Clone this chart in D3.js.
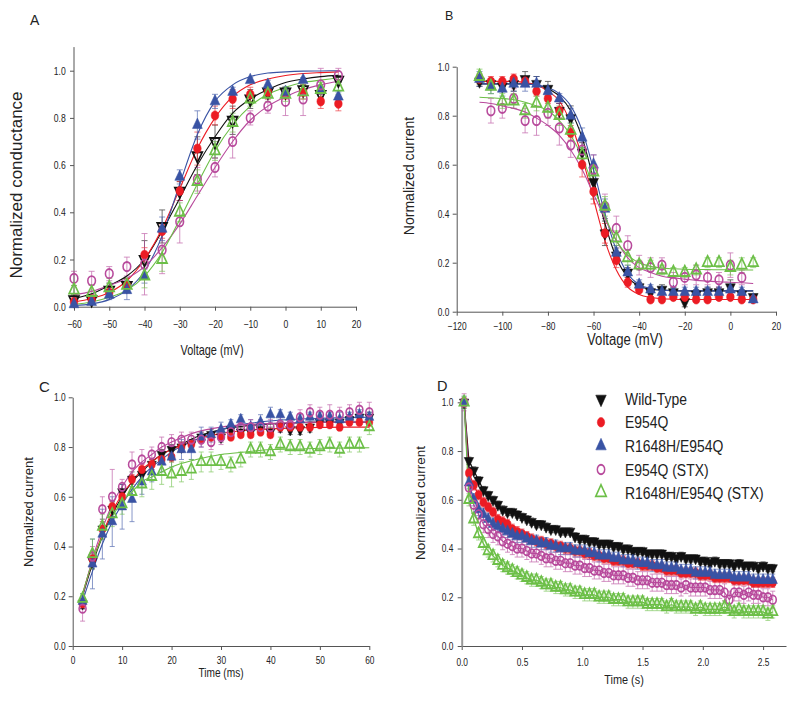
<!DOCTYPE html>
<html><head><meta charset="utf-8">
<script src="https://cdn.jsdelivr.net/npm/d3@7"></script>
<style>body{margin:0;background:#fff}text{font-family:"Liberation Sans",Arial,sans-serif;fill:#222}</style>
</head><body><svg id="c" width="800" height="701"></svg>
<script>
// ---------- series ----------
const seriesNames = ["Wild-Type","E954Q","R1648H/E954Q","E954Q (STX)","R1648H/E954Q (STX)"];
const seriesColors = ["#111111","#ec1c24","#3953a4","#b84a9c","#6cbf47"];
const seriesShapes = ["down","circle","up","circle","up"];
const seriesFilled = [true,true,true,false,false];

// ---------- Panel A: conductance ----------
const aVoltage = [-60,-55,-50,-45,-40,-35,-30,-25,-20,-15,-10,-5,0,5,10,15];
const aWT     = [0.03,0.03,0.07,0.09,0.20,0.34,0.49,0.64,0.70,0.79,0.88,0.91,0.91,0.92,0.90,0.96];
const aE954Q  = [0.02,0.03,0.06,0.09,0.22,0.32,0.49,0.67,0.81,0.88,0.90,0.91,0.90,0.91,0.87,0.86];
const aRH     = [0.01,0.02,0.05,0.07,0.13,0.33,0.55,0.77,0.87,0.91,0.96,0.94,0.91,0.96,0.92,0.89];
const aE954QS = [0.12,0.11,0.14,0.17,0.18,0.24,0.36,0.54,0.59,0.70,0.80,0.85,0.87,0.88,0.94,0.98];
const aRHS    = [0.07,0.06,0.08,0.09,0.13,0.20,0.40,0.53,0.66,0.78,0.88,0.90,0.90,0.91,0.92,0.93];
const aErrWT     = [0.02,0.02,0.03,0.03,0.08,0.07,0.04,0.08,0.07,0.06,0.04,0.02,0.02,0.02,0.03,0.02];
const aErrE954Q  = [0.02,0.02,0.02,0.03,0.03,0.03,0.04,0.07,0.04,0.04,0.03,0.03,0.02,0.03,0.03,0.03];
const aErrRH     = [0.01,0.01,0.02,0.04,0.03,0.05,0.03,0.06,0.03,0.02,0.01,0.02,0.02,0.01,0.02,0.02];
const aErrE954QS = [0.03,0.04,0.03,0.04,0.13,0.10,0.09,0.05,0.04,0.07,0.03,0.03,0.06,0.07,0.07,0.03];
const aErrRHS    = [0.02,0.03,0.04,0.03,0.05,0.05,0.04,0.05,0.04,0.04,0.03,0.03,0.03,0.03,0.03,0.03];
const aFitWT     = [0.035,0.055,0.09,0.13,0.20,0.32,0.46,0.60,0.72,0.82,0.88,0.92,0.95,0.965,0.975,0.98];
const aFitE954Q  = [0.02,0.035,0.06,0.11,0.20,0.33,0.50,0.67,0.80,0.89,0.94,0.965,0.98,0.988,0.992,0.995];
const aFitRH     = [0.005,0.012,0.03,0.07,0.15,0.30,0.52,0.73,0.87,0.94,0.975,0.99,0.995,0.998,0.999,1.0];
const aFitE954QS = [0.05,0.065,0.09,0.12,0.17,0.25,0.35,0.47,0.59,0.70,0.79,0.85,0.89,0.92,0.94,0.955];
const aFitRHS    = [0.01,0.02,0.04,0.07,0.13,0.23,0.37,0.52,0.66,0.77,0.85,0.90,0.93,0.95,0.96,0.97];
const aXTicks = [-60,-50,-40,-30,-20,-10,0,10,20];
const aYTicks = [0,0.2,0.4,0.6,0.8,1.0];

// ---------- Panel B: inactivation ----------
const bVoltage = [-110,-105,-100,-95,-90,-85,-80,-75,-70,-65,-60,-55,-50,-45,-40,-35,-30,-25,-20,-15,-10,-5,0,5,10];
const bWT     = [0.94,0.93,0.92,0.93,0.95,0.93,0.91,0.82,0.79,0.65,0.53,0.32,0.23,0.16,0.10,0.08,0.09,0.08,0.04,0.07,0.08,0.08,0.10,0.07,0.06];
const bE954Q  = [0.95,0.94,0.94,0.95,0.94,0.90,0.87,0.82,0.73,0.60,0.49,0.32,0.21,0.12,0.09,0.05,0.05,0.06,0.06,0.05,0.05,0.06,0.06,0.05,0.05];
const bRH     = [0.95,0.92,0.91,0.93,0.93,0.93,0.90,0.87,0.80,0.71,0.60,0.42,0.24,0.16,0.11,0.09,0.08,0.08,0.08,0.08,0.08,0.08,0.09,0.08,0.05];
const bE954QS = [null,0.82,0.83,0.87,0.78,0.78,0.81,0.75,0.68,0.66,0.58,0.43,0.34,0.27,0.19,0.18,0.19,0.12,0.14,0.15,0.14,0.13,0.19,0.14,null];
const bRHS    = [0.96,0.92,0.86,0.86,0.82,0.85,0.83,0.80,0.74,0.64,0.57,0.43,0.30,0.22,0.19,0.19,0.17,0.16,0.16,0.17,0.20,0.20,0.18,0.19,0.20];
const bErrWT     = [0.02,0.02,0.02,0.03,0.03,0.03,0.03,0.03,0.05,0.04,0.07,0.05,0.03,0.02,0.02,0.02,0.02,0.02,0.02,0.02,0.02,0.02,0.03,0.02,0.01];
const bErrE954Q  = [0.02,0.02,0.02,0.02,0.02,0.02,0.02,0.03,0.03,0.05,0.05,0.04,0.03,0.02,0.01,0.01,0.01,0.01,0.01,0.01,0.01,0.01,0.01,0.01,0.01];
const bErrRH     = [0.03,0.03,0.03,0.03,0.03,0.03,0.02,0.02,0.03,0.04,0.04,0.04,0.03,0.03,0.02,0.02,0.02,0.02,0.02,0.02,0.02,0.02,0.02,0.02,0.01];
const bErrE954QS = [0,0.05,0.04,0.04,0.05,0.06,0.05,0.07,0.05,0.04,0.06,0.05,0.05,0.04,0.04,0.04,0.03,0.04,0.03,0.04,0.03,0.03,0.05,0.03,0];
const bErrRHS    = [0.03,0.03,0.03,0.03,0.03,0.03,0.04,0.04,0.03,0.03,0.03,0.04,0.03,0.03,0.02,0.02,0.02,0.02,0.02,0.02,0.02,0.02,0.03,0.03,0.02];
const bFitWT     = [0.93,0.93,0.93,0.93,0.93,0.925,0.91,0.88,0.82,0.71,0.54,0.36,0.22,0.14,0.105,0.092,0.088,0.086,0.085,0.085,0.085,0.085,0.085,0.085,0.085];
const bFitE954Q  = [0.94,0.94,0.94,0.94,0.935,0.925,0.90,0.86,0.77,0.63,0.46,0.29,0.17,0.10,0.07,0.058,0.053,0.051,0.05,0.05,0.05,0.05,0.05,0.05,0.05];
const bFitRH     = [0.93,0.93,0.93,0.93,0.93,0.925,0.915,0.89,0.84,0.74,0.58,0.40,0.25,0.155,0.11,0.095,0.088,0.086,0.085,0.085,0.085,0.085,0.085,0.085,0.085];
const bFitE954QS = [0.855,0.85,0.84,0.83,0.815,0.79,0.76,0.72,0.66,0.58,0.48,0.38,0.29,0.22,0.18,0.16,0.145,0.138,0.133,0.128,0.125,0.122,0.12,0.118,0.115];
const bFitRHS    = [0.875,0.873,0.87,0.865,0.855,0.84,0.82,0.78,0.72,0.63,0.51,0.39,0.29,0.23,0.2,0.185,0.178,0.175,0.173,0.172,0.172,0.171,0.171,0.17,0.17];
const bXTicks = [-120,-100,-80,-60,-40,-20,0,20];
const bYTicks = [0,0.2,0.4,0.6,0.8,1.0];

// ---------- Panel C: recovery ----------
const cTime = [2,4,6,8,10,12,14,16,18,20,22,24,26,28,30,32,34,36,38,40,42,44,46,48,50,52,54,56,58,60];
const cWT     = [0.17,0.34,0.47,0.55,0.62,0.67,0.69,0.73,0.77,0.79,0.80,0.81,0.84,0.85,0.84,0.87,0.86,0.86,0.87,0.86,0.88,0.87,0.87,0.88,0.90,0.90,0.90,0.91,0.92,0.92];
const cE954Q  = [0.17,0.35,0.47,0.56,0.60,0.67,0.71,0.73,0.75,0.76,0.80,0.81,0.83,0.84,0.84,0.84,0.85,0.85,0.86,0.85,0.88,0.88,0.88,0.88,0.89,0.89,0.88,0.90,0.90,0.90];
const cRH     = [0.18,0.33,0.45,0.50,0.56,0.59,0.66,0.70,0.74,0.76,0.79,0.79,0.84,0.85,0.87,0.89,0.91,0.88,0.90,0.93,0.93,0.92,0.91,0.92,0.92,0.92,0.91,0.92,0.93,0.92];
const cE954QS = [0.15,0.36,0.55,0.60,0.64,0.73,0.75,0.77,0.80,0.82,0.83,0.83,0.83,0.82,0.84,0.86,0.88,0.88,0.88,0.88,0.89,0.89,0.92,0.94,0.93,0.93,0.93,0.94,0.95,0.94];
const cRHS    = [0.19,0.37,0.48,0.53,0.57,0.62,0.65,0.68,0.70,0.69,0.70,0.71,0.74,0.74,0.74,0.73,0.75,0.79,0.79,0.78,0.81,0.80,0.80,0.79,0.80,0.81,0.79,0.81,0.81,0.88];
const cErrWT     = [0.02,0.03,0.04,0.03,0.03,0.03,0.03,0.02,0.02,0.02,0.02,0.02,0.02,0.02,0.02,0.02,0.02,0.02,0.02,0.02,0.02,0.02,0.02,0.02,0.02,0.02,0.02,0.02,0.02,0.02];
const cErrE954Q  = [0.02,0.03,0.03,0.02,0.02,0.02,0.02,0.02,0.02,0.02,0.02,0.02,0.01,0.01,0.01,0.01,0.01,0.01,0.01,0.01,0.01,0.01,0.01,0.01,0.01,0.01,0.01,0.01,0.01,0.01];
const cErrRH     = [0.03,0.10,0.10,0.10,0.09,0.09,0.05,0.04,0.04,0.04,0.04,0.04,0.04,0.03,0.03,0.02,0.02,0.03,0.03,0.03,0.02,0.02,0.02,0.02,0.02,0.02,0.03,0.02,0.02,0.02];
const cErrE954QS = [0.05,0.04,0.05,0.11,0.03,0.05,0.04,0.03,0.04,0.03,0.03,0.03,0.03,0.03,0.03,0.03,0.03,0.03,0.03,0.03,0.03,0.03,0.03,0.03,0.03,0.04,0.03,0.03,0.03,0.04];
const cErrRHS    = [0.02,0.06,0.05,0.05,0.04,0.04,0.05,0.05,0.05,0.05,0.04,0.04,0.04,0.04,0.03,0.03,0.03,0.03,0.03,0.03,0.03,0.03,0.03,0.03,0.03,0.03,0.03,0.03,0.03,0.03];
const cFitTime   = [2,4,6,8,10,12,14,16,18,20,25,30,35,40,45,50,55,60];
const cFitWT     = [0.20,0.33,0.44,0.53,0.60,0.66,0.70,0.74,0.77,0.79,0.84,0.87,0.885,0.893,0.897,0.90,0.90,0.90];
const cFitE954Q  = [0.21,0.34,0.45,0.54,0.61,0.66,0.71,0.74,0.77,0.79,0.83,0.855,0.867,0.873,0.877,0.879,0.88,0.88];
const cFitRH     = [0.18,0.30,0.41,0.50,0.57,0.63,0.68,0.72,0.75,0.78,0.83,0.87,0.893,0.905,0.912,0.916,0.918,0.92];
const cFitE954QS = [0.20,0.35,0.47,0.57,0.64,0.70,0.74,0.77,0.80,0.82,0.86,0.88,0.89,0.895,0.898,0.90,0.90,0.90];
const cFitRHS    = [0.21,0.34,0.44,0.52,0.58,0.62,0.66,0.68,0.70,0.72,0.75,0.77,0.78,0.79,0.792,0.795,0.796,0.797];
const cXTicks = [0,10,20,30,40,50,60];
const cYTicks = [0,0.2,0.4,0.6,0.8,1.0];

// ---------- Panel D: use-dependent decay ----------
const dTime = [0.02,0.06,0.10,0.14,0.18,0.22,0.26,0.30,0.34,0.38,0.42,0.46,0.50,0.54,0.58,0.62,0.66,0.70,0.74,0.78,0.82,0.86,0.90,0.94,0.98,1.02,1.06,1.10,1.14,1.18,1.22,1.26,1.30,1.34,1.38,1.42,1.46,1.50,1.54,1.58,1.62,1.66,1.70,1.74,1.78,1.82,1.86,1.90,1.94,1.98,2.02,2.06,2.10,2.14,2.18,2.22,2.26,2.30,2.34,2.38,2.42,2.46,2.50,2.54,2.58];
const dWT     = [1.00,0.76,0.72,0.68,0.64,0.62,0.60,0.58,0.56,0.55,0.55,0.54,0.53,0.52,0.51,0.50,0.50,0.49,0.48,0.48,0.47,0.47,0.47,0.45,0.44,0.44,0.43,0.43,0.42,0.42,0.42,0.41,0.41,0.40,0.40,0.39,0.39,0.39,0.38,0.38,0.38,0.38,0.37,0.37,0.36,0.37,0.36,0.36,0.36,0.35,0.35,0.34,0.35,0.34,0.34,0.34,0.33,0.34,0.33,0.33,0.33,0.32,0.33,0.32,0.32];
const dE954Q  = [1.00,0.71,0.66,0.62,0.59,0.57,0.55,0.52,0.51,0.50,0.48,0.47,0.46,0.45,0.44,0.43,0.43,0.42,0.42,0.41,0.41,0.40,0.40,0.39,0.39,0.38,0.38,0.37,0.37,0.36,0.36,0.35,0.35,0.35,0.34,0.34,0.34,0.33,0.33,0.33,0.32,0.32,0.31,0.31,0.31,0.30,0.30,0.30,0.30,0.29,0.29,0.29,0.28,0.28,0.28,0.28,0.27,0.27,0.27,0.27,0.26,0.26,0.26,0.26,0.26];
const dRH     = [1.00,0.67,0.60,0.56,0.54,0.52,0.50,0.49,0.48,0.47,0.46,0.45,0.45,0.44,0.43,0.43,0.42,0.42,0.41,0.41,0.40,0.40,0.40,0.39,0.39,0.39,0.38,0.38,0.37,0.37,0.37,0.36,0.36,0.35,0.35,0.35,0.34,0.34,0.34,0.33,0.33,0.33,0.32,0.32,0.32,0.31,0.31,0.31,0.30,0.30,0.30,0.30,0.29,0.29,0.29,0.29,0.28,0.28,0.28,0.28,0.27,0.27,0.27,0.27,0.27];
const dE954QS = [1.00,0.65,0.58,0.54,0.50,0.48,0.46,0.45,0.43,0.42,0.41,0.40,0.40,0.39,0.38,0.38,0.37,0.36,0.36,0.35,0.35,0.34,0.34,0.33,0.33,0.32,0.32,0.31,0.31,0.30,0.30,0.29,0.29,0.29,0.28,0.28,0.27,0.27,0.27,0.26,0.26,0.26,0.25,0.25,0.25,0.24,0.25,0.24,0.24,0.24,0.24,0.23,0.23,0.23,0.22,0.19,0.22,0.22,0.21,0.22,0.21,0.21,0.20,0.20,0.19];
const dRHS    = [1.00,0.60,0.52,0.46,0.42,0.39,0.37,0.35,0.33,0.32,0.31,0.30,0.29,0.28,0.27,0.27,0.26,0.25,0.25,0.24,0.24,0.23,0.23,0.22,0.22,0.21,0.21,0.21,0.20,0.20,0.20,0.19,0.19,0.19,0.18,0.18,0.18,0.18,0.17,0.17,0.17,0.17,0.16,0.17,0.16,0.16,0.16,0.16,0.15,0.16,0.15,0.15,0.15,0.15,0.16,0.15,0.14,0.15,0.14,0.14,0.14,0.14,0.14,0.13,0.14];
const dErr = [0.015,0.02,0.025,0.035,0.025];
const dXTicks = [0,0.5,1.0,1.5,2.0,2.5];
const dYTicks = [0,0.2,0.4,0.6,0.8,1.0];

// ---------- drawing ----------
const svg = d3.select("#c");
const SX = 0.82; // horizontal squeeze of the original figure

function hText(x, y, str, size, anchor, sx, weight) {
  svg.append("text").attr("transform", `translate(${x},${y}) scale(${sx},1)`)
    .attr("text-anchor", anchor).attr("font-size", size).attr("font-weight", weight || "normal").text(str);
}
function vText(x, y, str, size) {
  svg.append("text").attr("transform", `translate(${x},${y}) rotate(-90)`)
    .attr("text-anchor", "middle").attr("font-size", size).text(str);
}
function markerPath(g, px, py, i, size, sx, openWT) {
  const circ = seriesShapes[i] === "circle";
  const gen = d3.symbol().type(circ ? d3.symbolCircle : d3.symbolTriangle).size(size);
  const rot = seriesShapes[i] === "down" ? " rotate(180)" : "";
  const isFilled = seriesFilled[i] && !(openWT && i === 0);
  g.append("path").attr("d", gen())
    .attr("transform", `translate(${px},${py}) scale(${sx},1)${rot}`)
    .attr("fill", isFilled ? seriesColors[i] : "none")
    .attr("stroke", seriesColors[i])
    .attr("stroke-width", isFilled ? 0.6 : 1.9);
}

function axes(x, y, xTicks, yTicks, xFmt, cfg) {
  const gx = svg.append("g").attr("transform", `translate(0,${y.range()[0]})`)
    .call(d3.axisBottom(x).tickValues(xTicks).tickSize(4).tickSizeOuter(0).tickFormat(d3.format(xFmt)));
  gx.selectAll("text").attr("y", cfg.xLab).attr("dy", 0).attr("font-size", cfg.tickSize)
    .attr("transform", `scale(${SX},1)`).style("font-family", '"Liberation Sans",Arial,sans-serif').attr("fill", "#333");
  const gy = svg.append("g").attr("transform", `translate(${x.range()[0]},0)`)
    .call(d3.axisLeft(y).tickValues(yTicks).tickSize(4).tickSizeOuter(0).tickFormat(d3.format(".1f")));
  gy.selectAll("text").attr("x", 0).attr("dy", "0.34em").attr("font-size", cfg.tickSize)
    .attr("transform", `translate(${-cfg.yLab},0) scale(${SX},1)`).style("font-family", '"Liberation Sans",Arial,sans-serif').attr("fill", "#333");
  [gx, gy].forEach(g => { g.selectAll("line").attr("stroke", "#555"); g.select(".domain").attr("stroke", "#555"); });
  if (cfg.yTop !== undefined) gy.select(".domain").attr("d", `M0,${y.range()[0]}V${cfg.yTop}`);
  if (cfg.yAxisColor) gy.select(".domain").attr("stroke", cfg.yAxisColor).attr("stroke-width", cfg.yAxisWidth);
}

function errBars(g, x, y, xs, vals, errs, color, cap) {
  xs.forEach((xv, k) => {
    const v = vals[k], e = errs[k];
    if (v == null || !e) return;
    const px = x(xv), y1 = y(v - e), y2 = y(v + e);
    g.append("line").attr("x1", px).attr("x2", px).attr("y1", y1).attr("y2", y2);
    g.append("line").attr("x1", px - cap).attr("x2", px + cap).attr("y1", y1).attr("y2", y1);
    g.append("line").attr("x1", px - cap).attr("x2", px + cap).attr("y1", y2).attr("y2", y2);
  });
  g.attr("stroke", color).attr("stroke-width", 0.8).attr("opacity", 0.75);
}

function panel(x, y, xs, data, errs, fitX, fits, opts) {
  data.forEach((vals, i) => errBars(svg.append("g"), x, y, xs, vals, Array.isArray(errs[i]) ? errs[i] : xs.map(() => errs[i]), seriesColors[i], opts.cap));
  if (fits) {
    fits.forEach((f, i) => {
      const line = d3.line().x((d, k) => x(fitX[k])).y(d => y(d)).curve(d3.curveMonotoneX);
      svg.append("path").attr("d", line(f)).attr("fill", "none").attr("stroke", seriesColors[i]).attr("stroke-width", 1.1);
    });
  }
  if (opts.connect) {
    data.forEach((vals, i) => {
      const line = d3.line().defined(d => d != null).x((d, k) => x(xs[k])).y(d => y(d));
      svg.append("path").attr("d", line(vals)).attr("fill", "none").attr("stroke", seriesColors[i]).attr("stroke-width", 1.2);
    });
  }
  data.forEach((vals, i) => {
    const g = svg.append("g");
    vals.forEach((v, k) => { if (v != null) markerPath(g, x(xs[k]), y(v), i, seriesShapes[i] === "circle" ? opts.circSize : opts.triSize, SX, opts.openWT); });
  });
}

// ----- Panel A -----
{
  const x = d3.scaleLinear().domain([-60, 20]).range([74, 356]);
  const y = d3.scaleLinear().domain([0, 1.1]).range([306.7, 47.1]);
  axes(x, y, aXTicks, aYTicks, "d", { xLab: 21.6, yLab: 8.3, tickSize: 10.5, yTop: 47.1 });
  panel(x, y, aVoltage, [aWT, aE954Q, aRH, aE954QS, aRHS], [aErrWT, aErrE954Q, aErrRH, aErrE954QS, aErrRHS],
    aVoltage, [aFitWT, aFitE954Q, aFitRH, aFitE954QS, aFitRHS], { cap: 3, circSize: 68, triSize: 62, openWT: true });
  hText(30, 25, "A", 14, "start", 1);
  hText(212, 355, "Voltage (mV)", 14, "middle", 0.78);
  vText(22, 185, "Normalized conductance", 17);
}
// ----- Panel B -----
{
  const x = d3.scaleLinear().domain([-120, 20]).range([456.7, 776]);
  const y = d3.scaleLinear().domain([0, 1]).range([311.7, 66.7]);
  axes(x, y, bXTicks, bYTicks, "d", { xLab: 18.3, yLab: 7.4, tickSize: 10.2 });
  panel(x, y, bVoltage, [bWT, bE954Q, bRH, bE954QS, bRHS], [bErrWT, bErrE954Q, bErrRH, bErrE954QS, bErrRHS],
    bVoltage, [bFitWT, bFitE954Q, bFitRH, bFitE954QS, bFitRHS], { cap: 3, circSize: 68, triSize: 62 });
  hText(445, 20, "B", 12.5, "start", 1);
  hText(625, 345, "Voltage (mV)", 16, "middle", 0.82);
  vText(413.5, 176, "Normalized current", 14);
}
// ----- Panel C -----
{
  const x = d3.scaleLinear().domain([0, 60]).range([72.7, 369.3]);
  const y = d3.scaleLinear().domain([0, 1]).range([646, 397.3]);
  axes(x, y, cXTicks, cYTicks, "d", { xLab: 18, yLab: 7, tickSize: 10.2 });
  panel(x, y, cTime, [cWT, cE954Q, cRH, cE954QS, cRHS], [cErrWT, cErrE954Q, cErrRH, cErrE954QS, cErrRHS],
    cFitTime, [cFitWT, cFitE954Q, cFitRH, cFitE954QS, cFitRHS], { cap: 2.5, circSize: 56, triSize: 52 });
  hText(39, 392, "C", 15, "start", 1);
  hText(221, 677, "Time (ms)", 13, "middle", 0.78);
  vText(32.5, 512, "Normalized current", 13);
}
// ----- Panel D -----
{
  const x = d3.scaleLinear().domain([0, 2.69]).range([461.7, 786]);
  const y = d3.scaleLinear().domain([0, 1]).range([646, 402.3]);
  axes(x, y, dXTicks, dYTicks, ".1f", { xLab: 20, yLab: 8.4, tickSize: 10.2, yAxisColor: "#999", yAxisWidth: 2 });
  panel(x, y, dTime, [dWT, dE954Q, dRH, dE954QS, dRHS], dErr, null, null, { cap: 2.5, circSize: 58, triSize: 56, connect: true });
  hText(437, 390.7, "D", 14.5, "start", 1);
  hText(624, 684, "Time (s)", 13, "middle", 0.84);
  vText(425, 503, "Normalized current", 13.5);
  const lg = svg.append("g");
  const rows = [405, 428.3, 452, 475.5, 498.5];
  seriesNames.forEach((n, i) => {
    markerPath(lg, 601, rows[i] - 6, i, seriesShapes[i] === "circle" ? 70 : 78, 0.78, false);
    hText(625, rows[i], n, 17, "start", 0.82);
  });
}
</script></body></html>
